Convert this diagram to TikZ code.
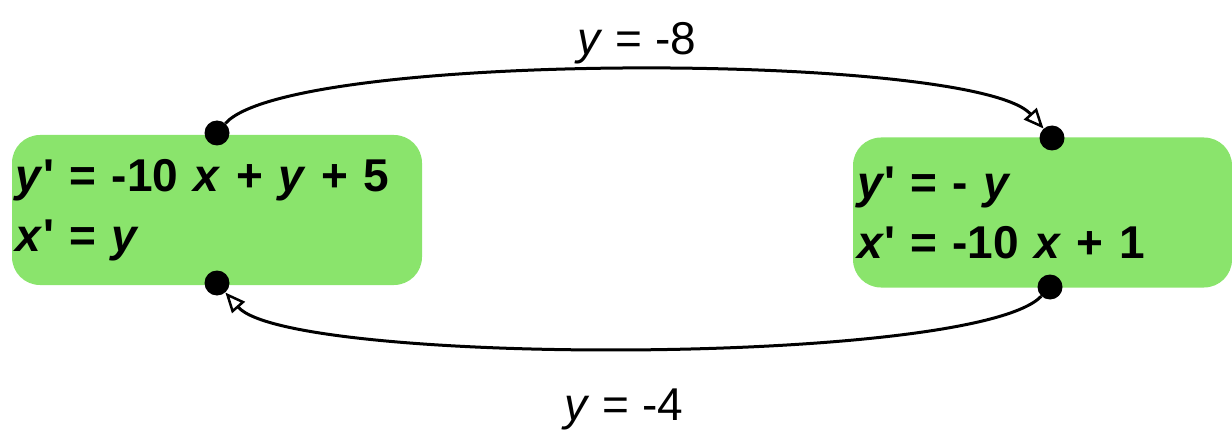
\documentclass[tikz,border=0pt]{standalone}
\usepackage{fontspec}
\setmainfont{Liberation Sans}
\usetikzlibrary{positioning,arrows.meta}
\definecolor{modegreen}{RGB}{138,228,108}
\newcommand{\var}[1]{\textit{#1}}
\newcommand{\pr}{\textquotesingle}

\begin{document}
\begin{tikzpicture}[x=1pt, y=-1pt,
  >={Triangle[fill=white,length=20pt,width=17pt,line width=2.5pt]},
  mode/.style={fill=modegreen, rounded corners=28pt, align=left,
    minimum height=150pt, inner xsep=4pt,
    font=\fontsize{46}{60}\selectfont\bfseries},
  port/.style={circle, fill=black, inner sep=0pt, minimum size=25pt},
  flow/.style={line width=3pt, ->},
  guard/.style={font=\fontsize{46}{56}\selectfont}]
  \useasboundingbox (0,0) rectangle (1232,433);
  % the two modes
  \node (A) [mode, text width=402pt] at (217,210)
    {\var{y}\pr{} = -10 \var{x} + \var{y} + 5\\ \var{x}\pr{} = \var{y}};
  \node (B) [mode, text width=371pt] at (1042.5,212.5)
    {\var{y}\pr{} = - \var{y}\\ \var{x}\pr{} = -10 \var{x} + 1};
  % ports
  \node (At) [port] at (217,133) {};
  \node (Ab) [port] at (217,283) {};
  \node (Bt) [port] at (1052,138) {};
  \node (Bb) [port] at (1050,287) {};
  % transitions
  \draw[flow] (At) .. controls (290,50) and (975,52) .. (Bt);
  \draw[flow] (Bb) .. controls (975,366) and (290,366) .. (Ab);
  \node (g1) [guard, anchor=base] at (637,55) {\var{y} = -8};
  \node (g2) [guard, anchor=base] at (624,420) {\var{y} = -4};
\end{tikzpicture}
\end{document}
